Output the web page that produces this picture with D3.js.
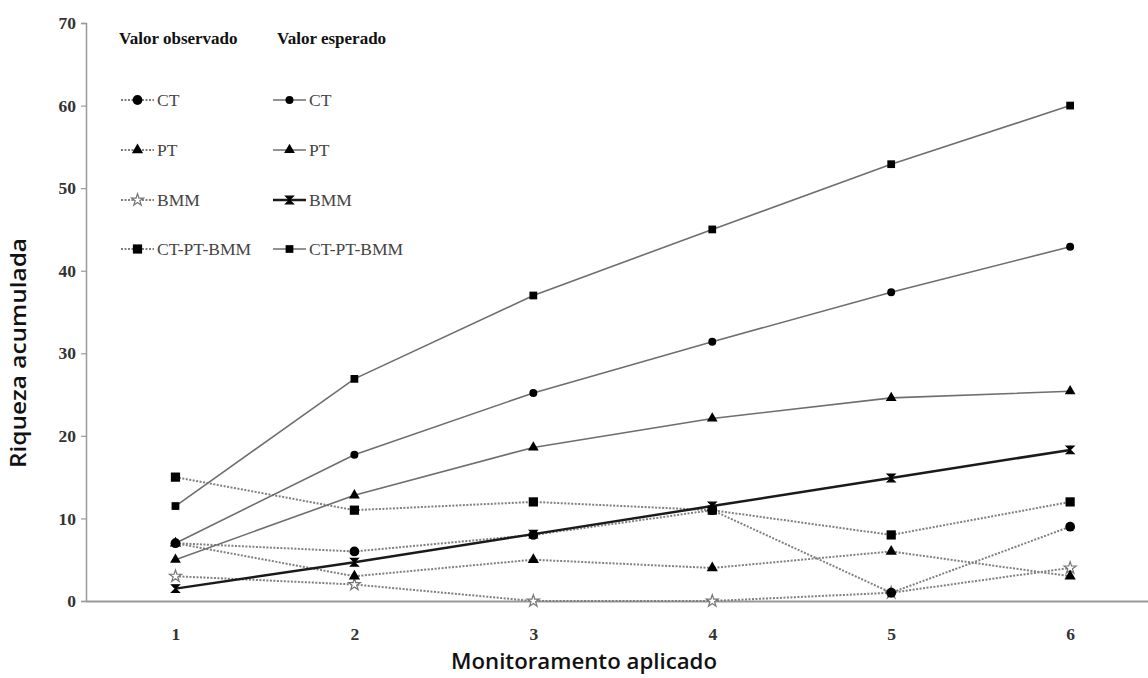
<!DOCTYPE html>
<html>
<head>
<meta charset="utf-8">
<script src="https://cdn.jsdelivr.net/npm/d3@7"></script>
<style>
  html, body { margin: 0; padding: 0; background: #fff; }
  svg { display: block; }
</style>
</head>
<body>
<svg id="chart" width="1148" height="678"></svg>
<script>
// ---- data ----
const categories = [1, 2, 3, 4, 5, 6];
const yTicks = [0, 10, 20, 30, 40, 50, 60, 70];
const seriesNames = ["CT", "PT", "BMM", "CT-PT-BMM"];
const obsCT  = [7, 6, 8, 11, 1, 9];
const obsPT  = [7, 3, 5, 4, 6, 3];
const obsBMM = [3, 2, 0, 0, 1, 4];
const obsAll = [15, 11, 12, 11, 8, 12];
const expCT  = [7, 17.7, 25.2, 31.4, 37.4, 42.9];
const expPT  = [5, 12.8, 18.6, 22.1, 24.6, 25.4];
const expBMM = [1.5, 4.7, 8.1, 11.5, 14.9, 18.3];
const expAll = [11.5, 26.9, 37.0, 45.0, 52.9, 60.0];
const legendHeaders = ["Valor observado", "Valor esperado"];
const xTitle = "Monitoramento aplicado";
const yTitle = "Riqueza acumulada";

// ---- setup ----
const svg = d3.select("#chart");
const x = d3.scaleLinear().domain([0.5, 6.5]).range([86, 1159.6]);
const y = d3.scaleLinear().domain([0, 70]).range([601, 23]);

const serif = "'Liberation Serif', 'Times New Roman', serif";
const sans = "'Open Sans', 'Noto Sans', sans-serif";

// axes
const yAxis = d3.axisLeft(y).tickValues(yTicks).tickSize(5).tickPadding(5);
const gy = svg.append("g").attr("transform", "translate(86,0)").call(yAxis)
  .attr("font-family", serif);
gy.select(".domain").attr("stroke", "#999").attr("stroke-width", 1.5);
gy.selectAll(".tick line").attr("stroke", "#999").attr("stroke-width", 1.2);
gy.selectAll(".tick text").style("font-family", serif).attr("font-weight", "bold")
  .attr("font-size", 17.5).attr("fill", "#333");

const xAxis = d3.axisBottom(x).tickValues(categories).tickSize(0).tickPadding(27)
  .tickFormat(d3.format("d"));
const gx = svg.append("g").attr("transform", "translate(0,601)").call(xAxis)
  .attr("font-family", serif);
gx.select(".domain").attr("stroke", "#999").attr("stroke-width", 2);
gx.selectAll(".tick text").style("font-family", serif).attr("font-weight", "bold")
  .attr("font-size", 17.5).attr("fill", "#333");

// titles
svg.append("text").attr("x", 584).attr("y", 669).attr("text-anchor", "middle")
  .attr("font-family", sans).attr("font-weight", 600).attr("font-size", 21)
  .attr("textLength", 266).attr("lengthAdjust", "spacingAndGlyphs")
  .attr("fill", "#111").text(xTitle);
svg.append("text").attr("transform", "translate(26,353) rotate(-90)")
  .attr("text-anchor", "middle")
  .attr("font-family", sans).attr("font-weight", 600).attr("font-size", 21)
  .attr("textLength", 230).attr("lengthAdjust", "spacingAndGlyphs")
  .attr("fill", "#111").text(yTitle);

// markers
const bowtie = { draw(ctx, size) { const s = Math.sqrt(size) / 2;
  ctx.moveTo(-s, -s); ctx.lineTo(s, -s); ctx.lineTo(-s, s); ctx.lineTo(s, s); ctx.closePath(); } };
const markerDefs = {
  obsCT:  { type: d3.symbolCircle, size: 75, fill: "#000", stroke: "none" },
  obsPT:  { type: d3.symbolTriangle, size: 55, fill: "#000", stroke: "none" },
  obsBMM: { type: d3.symbolStar, size: 45, fill: "#fff", stroke: "#777" },
  obsAll: { type: d3.symbolSquare, size: 85, fill: "#000", stroke: "none" },
  expCT:  { type: d3.symbolCircle, size: 50, fill: "#000", stroke: "none" },
  expPT:  { type: d3.symbolTriangle, size: 50, fill: "#000", stroke: "none" },
  expBMM: { type: bowtie, size: 60, fill: "#000", stroke: "#000" },
  expAll: { type: d3.symbolSquare, size: 60, fill: "#000", stroke: "none" }
};

const series = [
  { key: "obsBMM", values: obsBMM, obs: true },
  { key: "obsPT", values: obsPT, obs: true },
  { key: "obsCT", values: obsCT, obs: true },
  { key: "obsAll", values: obsAll, obs: true },
  { key: "expAll", values: expAll, obs: false },
  { key: "expCT", values: expCT, obs: false },
  { key: "expPT", values: expPT, obs: false },
  { key: "expBMM", values: expBMM, obs: false, bold: true }
];

function lineStyle(sel, s) {
  if (s.obs) sel.attr("stroke", "#808080").attr("stroke-width", 2).attr("stroke-dasharray", "2,1.5");
  else if (s.bold) sel.attr("stroke", "#1a1a1a").attr("stroke-width", 2.5);
  else sel.attr("stroke", "#6e6e6e").attr("stroke-width", 1.6);
}

const line = d3.line().x((d, i) => x(categories[i])).y(d => y(d));
series.forEach(s => {
  svg.append("path").datum(s.values).attr("d", line).attr("fill", "none").call(lineStyle, s);
});
series.forEach(s => {
  const m = markerDefs[s.key];
  svg.append("g").selectAll("path").data(s.values).join("path")
    .attr("transform", (d, i) => `translate(${x(categories[i])},${y(d)})`)
    .attr("d", d3.symbol(m.type, m.size))
    .attr("fill", m.fill).attr("stroke", m.stroke).attr("stroke-width", 1.2);
});

// legend
const legendRowsY = [100, 150, 200, 249];
const legendCols = [
  { x0: 121, keys: ["obsCT", "obsPT", "obsBMM", "obsAll"], obs: true },
  { x0: 273, keys: ["expCT", "expPT", "expBMM", "expAll"], obs: false }
];
const lg = svg.append("g");
lg.selectAll("text.hdr").data(legendHeaders).join("text").attr("class", "hdr")
  .attr("x", (d, i) => [119, 277][i]).attr("y", 44)
  .attr("font-family", serif).attr("font-weight", "bold").attr("font-size", 17)
  .attr("fill", "#111").text(d => d);
legendCols.forEach(col => {
  col.keys.forEach((k, i) => {
    const yy = legendRowsY[i];
    const s = { obs: col.obs, bold: k === "expBMM" };
    lg.append("line").attr("x1", col.x0).attr("x2", col.x0 + 33).attr("y1", yy).attr("y2", yy)
      .attr("fill", "none").call(lineStyle, s);
    const m = markerDefs[k];
    lg.append("path").attr("transform", `translate(${col.x0 + 16.5},${yy})`)
      .attr("d", d3.symbol(m.type, m.size)).attr("fill", m.fill)
      .attr("stroke", m.stroke).attr("stroke-width", 1.2);
    lg.append("text").attr("x", col.x0 + 36).attr("y", yy + 6)
      .attr("font-family", serif).attr("font-size", 17.5).attr("fill", "#444")
      .text(seriesNames[i]);
  });
});
</script>
</body>
</html>
